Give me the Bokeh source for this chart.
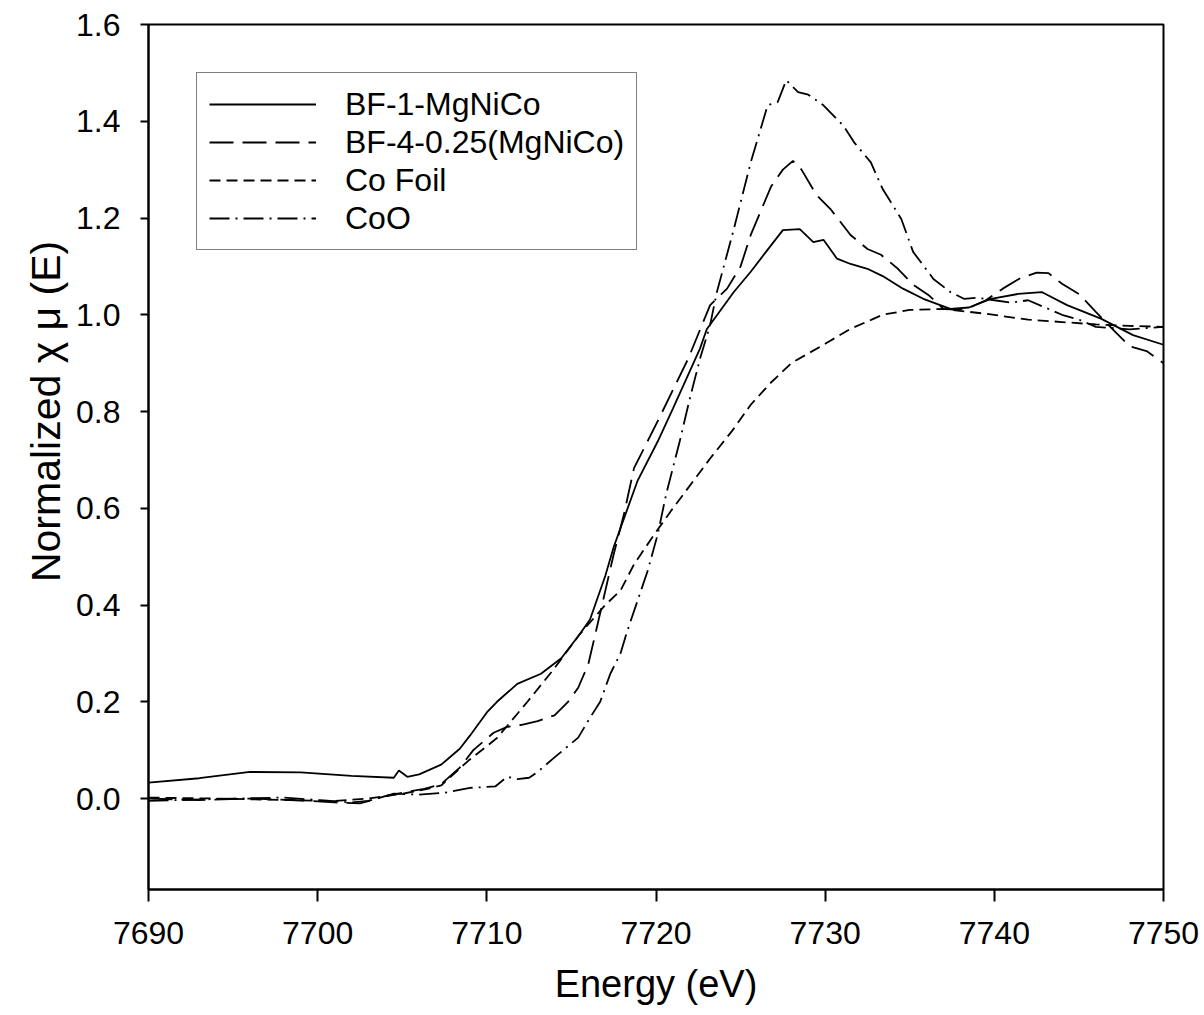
from bokeh.plotting import figure
from bokeh.models import FixedTicker, Legend, LegendItem, Range1d, PrintfTickFormatter
from bokeh.embed import file_html
from bokeh.resources import INLINE

# ---- data ----
BF1_E = [7690, 7693, 7696, 7699, 7702, 7704.5, 7704.8, 7705.3, 7706, 7707.3, 7708.4, 7709, 7710,
         7710.6, 7711.8, 7713.2, 7714.4, 7715.5, 7716.1, 7717, 7717.5, 7718.9, 7720.1, 7721, 7722.6,
         7723, 7724.6, 7725.6, 7726.5, 7727.5, 7728.5, 7729.3, 7729.9, 7730.7, 7731.5, 7732.5, 7733.4,
         7734.6, 7735.8, 7737.4, 7738.5, 7739.8, 7741.4, 7742.8, 7744.3, 7746.3, 7748.2, 7750]
BF1_V = [0.033, 0.042, 0.055, 0.054, 0.047, 0.043, 0.058, 0.045, 0.05, 0.07, 0.103, 0.13, 0.178,
         0.2, 0.237, 0.258, 0.29, 0.34, 0.37, 0.46, 0.52, 0.656, 0.738, 0.806, 0.93,
         0.97, 1.047, 1.089, 1.13, 1.175, 1.177, 1.15, 1.155, 1.116, 1.105, 1.095, 1.08,
         1.054, 1.033, 1.012, 1.015, 1.033, 1.043, 1.047, 1.02, 0.992, 0.958, 0.938]

BF4_E = [7690, 7693, 7696, 7699, 7701, 7702.5, 7704, 7705, 7706.3, 7707.3, 7708.4, 7709.2, 7710.4,
         7711.2, 7712, 7713, 7714, 7714.8, 7715.4, 7716, 7716.5, 7717.5, 7718.1, 7718.7, 7720.1,
         7721.9, 7723.2, 7724.2, 7725, 7725.6, 7726.8, 7727.5, 7728.1, 7728.6, 7729.5, 7730.3,
         7731.5, 7732.5, 7733.3, 7734.3, 7735.2, 7736.1, 7737, 7737.8, 7738.6, 7739.5, 7740.5,
         7741.5, 7742.5, 7743.2, 7744, 7745, 7746, 7747, 7748, 7749, 7750]
BF4_V = [0.0, -0.003, 0.0, -0.004, -0.008, -0.01, 0.005, 0.012, 0.02, 0.03, 0.064, 0.1, 0.136,
         0.148, 0.152, 0.16, 0.172, 0.2, 0.229, 0.278, 0.353, 0.505, 0.587, 0.683, 0.78,
         0.909, 1.02, 1.054, 1.1, 1.165, 1.265, 1.3, 1.318, 1.3, 1.247, 1.219,
         1.165, 1.136, 1.124, 1.095, 1.062, 1.041, 1.012, 1.01, 1.016, 1.03, 1.054,
         1.075, 1.087, 1.086, 1.064, 1.043, 1.006, 0.97, 0.935, 0.925, 0.90]

COF_E = [7690, 7694, 7698, 7701, 7703, 7705, 7706.5, 7707.3, 7708.9, 7710.6, 7712.4, 7713.9, 7715.5,
         7717, 7717.9, 7718.7, 7719.9, 7721, 7722.2, 7723.2, 7724.5, 7725.6, 7726.8, 7728, 7729,
         7730, 7731.5, 7733.4, 7735, 7737, 7739.5, 7742, 7744, 7746, 7748, 7750]
COF_V = [0.002, 0.0, -0.003, -0.005, 0.0, 0.01, 0.02, 0.027, 0.078, 0.125, 0.2, 0.265, 0.34,
         0.40, 0.43, 0.484, 0.546, 0.6, 0.656, 0.703, 0.76, 0.814, 0.86, 0.9, 0.92,
         0.94, 0.971, 1.0, 1.01, 1.012, 1.002, 0.99, 0.985, 0.98, 0.977, 0.975]

COO_E = [7690, 7692, 7695, 7698, 7700, 7702, 7703, 7704.5, 7706, 7707.5, 7709, 7710.5, 7711.2,
         7711.8, 7712.5, 7713, 7714, 7715.4, 7716.1, 7716.7, 7717.3, 7717.9, 7718.3, 7719.5,
         7720.1, 7720.6, 7721.4, 7722, 7722.6, 7723.2, 7723.6, 7724.6, 7725.6, 7726.6, 7727.2,
         7727.7, 7728.4, 7729, 7729.9, 7731.1, 7731.7, 7732.7, 7733.4, 7734.5, 7735.2, 7736.4,
         7737.4, 7738.2, 7739, 7740, 7741, 7742, 7743, 7744, 7745, 7746, 7748, 7750]
COO_V = [-0.005, -0.003, 0.0, 0.002, -0.003, -0.008, -0.005, 0.01, 0.008, 0.012, 0.022, 0.025, 0.045,
         0.04, 0.043, 0.055, 0.085, 0.126, 0.167, 0.2, 0.258, 0.3, 0.346, 0.47,
         0.546, 0.629, 0.738, 0.827, 0.909, 0.979, 1.047, 1.177, 1.315, 1.433, 1.44,
         1.485, 1.46, 1.455, 1.433, 1.39, 1.357, 1.315, 1.26, 1.198, 1.13, 1.074,
         1.047, 1.033, 1.035, 1.03, 1.025, 1.03, 1.015, 1.0, 0.99, 0.975, 0.97, 0.975]

LABELS = ["BF-1-MgNiCo", "BF-4-0.25(MgNiCo)", "Co Foil", "CoO"]
X_TICKS = [7690, 7700, 7710, 7720, 7730, 7740, 7750]
Y_TICKS = [0.0, 0.2, 0.4, 0.6, 0.8, 1.0, 1.2, 1.4, 1.6]

FONT = "Liberation Sans"

p = figure(width=1204, height=1015, output_backend="svg", toolbar_location=None,
           x_range=Range1d(7690, 7750), y_range=Range1d(-0.188, 1.6),
           min_border_left=148, min_border_right=41, min_border_top=24, min_border_bottom=126)
p.xgrid.visible = False
p.ygrid.visible = False
p.background_fill_color = "white"
p.border_fill_color = "white"
p.outline_line_color = "black"
p.outline_line_width = 2

styles = [
    dict(line_dash="solid"),
    dict(line_dash="24 9"),
    dict(line_dash="11 6"),
    dict(line_dash="20 6 2 6"),
]
series = [(BF1_E, BF1_V), (BF4_E, BF4_V), (COF_E, COF_V), (COO_E, COO_V)]
renderers = []
for (ex, vy), st in zip(series, styles):
    r = p.line(ex, vy, line_color="black", line_width=1.8, **st)
    renderers.append(r)

legend = Legend(items=[LegendItem(label=l, renderers=[r]) for l, r in zip(LABELS, renderers)],
                location=(48, 639))
legend.label_text_font = FONT
legend.label_text_font_size = "32px"
legend.label_text_color = "black"
legend.glyph_width = 107
legend.glyph_height = 38
legend.label_height = 38
legend.label_standoff = 29
legend.spacing = 0
legend.padding = 12
legend.margin = 0
legend.border_line_color = "black"
legend.border_line_width = 1.5
legend.background_fill_alpha = 1.0
p.add_layout(legend)

for ax in (p.xaxis[0], p.yaxis[0]):
    ax.axis_line_width = 2
    ax.major_tick_line_width = 2
    ax.major_tick_in = 0
    ax.minor_tick_in = 0
    ax.minor_tick_out = 0
    ax.major_label_text_font = FONT
    ax.major_label_text_font_size = "32px"
    ax.major_label_text_color = "black"
    ax.axis_label_text_font = FONT
    ax.axis_label_text_font_style = "normal"
    ax.axis_label_text_color = "black"

p.xaxis.axis_label_text_font_size = "38px"
p.yaxis.axis_label_text_font_size = "41px"
p.xaxis.ticker = FixedTicker(ticks=X_TICKS)
p.yaxis.ticker = FixedTicker(ticks=Y_TICKS)
p.yaxis.formatter = PrintfTickFormatter(format="%.1f")
p.xaxis.major_tick_out = 12
p.yaxis.major_tick_out = 8
p.xaxis.major_label_standoff = 20
p.yaxis.major_label_standoff = 20
p.xaxis.axis_label = "Energy (eV)"
p.yaxis.axis_label = "\u00a0" * 8 + "Normalized \u03c7 \u03bc (E)"
p.xaxis.axis_label_standoff = 16
p.yaxis.axis_label_standoff = 4

open("out.html", "w").write(file_html(p, INLINE))
